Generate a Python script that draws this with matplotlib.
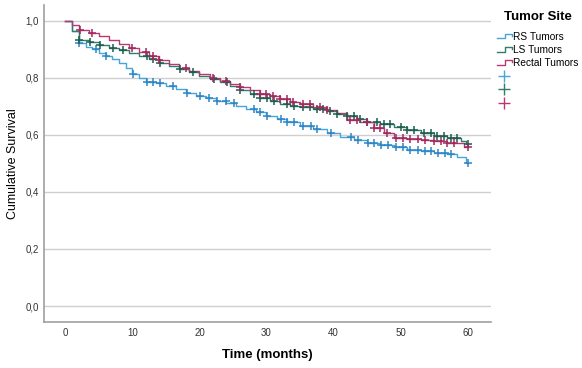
import matplotlib
matplotlib.use("Agg")
import matplotlib.pyplot as plt
import numpy as np
from matplotlib.lines import Line2D
from matplotlib.legend_handler import HandlerBase

plt.rcParams['font.family'] = ['Liberation Sans', 'DejaVu Sans']

# ---- data ----
groups = ["RS Tumors", "LS Tumors", "Rectal Tumors"]

rs_times = [0, 1.0, 2.0, 3.0, 4.0, 5.0, 6.0, 7.0, 8.0, 9.0, 10.0, 11.0, 12.0, 13.5, 15.0,
            16.5, 18.0, 19.5, 21.0, 22.5, 24.0, 25.5, 27.0, 28.5, 30.0, 31.5, 33.0, 35.0,
            37.0, 39.0, 41.0, 43.0, 45.0, 47.0, 49.0, 51.0, 53.0, 55.0, 57.0, 58.5, 59.8]
rs_surv = [1.0, 0.966, 0.922, 0.91, 0.90, 0.888, 0.876, 0.866, 0.852, 0.835, 0.815, 0.80,
           0.787, 0.781, 0.773, 0.762, 0.748, 0.737, 0.728, 0.720, 0.712, 0.703, 0.692,
           0.681, 0.668, 0.657, 0.645, 0.632, 0.620, 0.606, 0.593, 0.581, 0.572, 0.563,
           0.556, 0.548, 0.543, 0.538, 0.532, 0.522, 0.500]
rs_censor = [2.0, 4.6, 6.1, 10.1, 12.1, 13.1, 14.1, 16.1, 18.1, 20.1, 21.4, 22.6, 23.9,
             25.1, 28.1, 29.1, 30.1, 32.1, 33.1, 34.1, 35.4, 36.6, 37.6, 39.6, 42.6, 43.6,
             45.1, 46.1, 47.1, 48.1, 49.4, 50.4, 51.4, 52.6, 53.6, 54.6, 55.6, 56.6, 57.6,
             60.0]

ls_times = [0, 1.0, 2.0, 3.5, 5.0, 6.5, 8.0, 9.5, 11.0, 12.5, 14.0, 15.5, 17.0, 18.5, 20.0,
            21.5, 23.0, 24.5, 26.0, 27.5, 29.0, 30.5, 32.0, 33.5, 35.0, 37.0, 39.0, 40.5,
            42.0, 43.5, 45.0, 47.0, 49.0, 51.0, 53.0, 55.0, 57.0, 59.0, 59.8]
ls_surv = [1.0, 0.966, 0.933, 0.925, 0.915, 0.906, 0.898, 0.888, 0.878, 0.866, 0.852,
           0.842, 0.832, 0.822, 0.808, 0.796, 0.784, 0.770, 0.757, 0.744, 0.728, 0.718,
           0.710, 0.703, 0.698, 0.692, 0.684, 0.675, 0.665, 0.655, 0.647, 0.638, 0.628,
           0.617, 0.605, 0.596, 0.588, 0.580, 0.568]
ls_censor = [2.0, 3.6, 5.1, 7.1, 8.6, 12.1, 13.1, 14.1, 17.1, 19.1, 22.1, 24.1, 26.1,
             28.1, 29.1, 30.1, 31.1, 33.1, 34.1, 35.5, 36.5, 37.5, 38.5, 39.5, 40.5,
             42.0, 43.0, 44.0, 45.0, 46.5, 47.5, 48.5, 50.0, 51.0, 52.0, 53.5, 54.5,
             55.5, 56.5, 57.5, 58.5, 60.0]

re_times = [0, 1.0, 2.0, 3.5, 5.0, 6.5, 8.0, 9.5, 11.0, 12.5, 14.0, 15.5, 17.0, 18.5,
            20.0, 21.5, 23.0, 24.5, 26.0, 27.5, 29.0, 30.5, 32.0, 33.5, 35.0, 37.0, 39.0,
            40.5, 42.0, 44.0, 46.0, 47.5, 49.0, 51.0, 53.0, 55.0, 57.0, 59.5]
re_surv = [1.0, 0.986, 0.968, 0.957, 0.946, 0.934, 0.920, 0.905, 0.890, 0.876, 0.862,
           0.848, 0.836, 0.825, 0.812, 0.800, 0.790, 0.778, 0.768, 0.757, 0.745, 0.735,
           0.726, 0.717, 0.708, 0.697, 0.686, 0.677, 0.653, 0.645, 0.625, 0.607, 0.590,
           0.586, 0.582, 0.577, 0.572, 0.559]
re_censor = [2.1, 4.0, 10.0, 12.0, 13.0, 14.0, 18.0, 22.0, 24.0, 26.0, 29.0, 30.0, 31.0,
             32.0, 33.0, 34.0, 35.5, 36.5, 38.0, 39.0, 42.5, 43.5, 45.0, 46.0, 47.0, 48.0,
             49.4, 50.4, 51.4, 52.6, 53.6, 55.0, 56.0, 57.0, 58.0, 60.0]

x_ticks = [0, 10, 20, 30, 40, 50, 60]
y_ticks = [0.0, 0.2, 0.4, 0.6, 0.8, 1.0]

line_colors = ['#45a6da', '#2f7d6b', '#b83a72']
mark_colors = ['#2f86c6', '#1f5c4e', '#a02a5e']

# ---- figure ----
fig = plt.figure(figsize=(5.82, 3.68), dpi=100)
ax = fig.add_axes([0.0756, 0.125, 0.768, 0.861])

series = [(rs_times, rs_surv, rs_censor), (ls_times, ls_surv, ls_censor),
          (re_times, re_surv, re_censor)]
for (t, s, c), lc, mc in zip(series, line_colors, mark_colors):
    tt = list(t) + [60.0]
    ss = list(s) + [s[-1]]
    ax.step(tt, ss, where='post', color=lc, lw=1.0, zorder=3)
    idx = np.searchsorted(np.array(t), np.array(c), side='right') - 1
    cy = np.array(s)[idx]
    ax.plot(c, cy, linestyle='none', marker='+', markersize=5.5, mew=1.1,
            color=mc, zorder=4)

ax.set_xlim(-3.2, 63.5)
ax.set_ylim(-0.056, 1.055)
ax.set_xticks(x_ticks)
ax.set_xticklabels([str(v) for v in x_ticks])
ax.set_yticks(y_ticks)
ax.set_yticklabels([f"{v:.1f}".replace('.', ',') for v in y_ticks])
ax.tick_params(axis='x', length=0, labelsize=7, labelcolor='#333333', pad=4.5)
ax.tick_params(axis='y', length=0, labelsize=7, labelcolor='#333333', pad=3.5)
ax.yaxis.grid(True, color='#cfcfcf', lw=1.0)
ax.set_axisbelow(True)
for sp in ['top', 'right']:
    ax.spines[sp].set_visible(False)
for sp in ['left', 'bottom']:
    ax.spines[sp].set_color('#a0a0a0')
    ax.spines[sp].set_linewidth(1.2)

ax.set_xlabel('Time (months)', fontsize=9.5, fontweight='bold', labelpad=8)
ax.set_ylabel('Cumulative Survival', fontsize=9, labelpad=5)


class StepHandler(HandlerBase):
    def create_artists(self, legend, orig_handle, xdescent, ydescent, width, height,
                       fontsize, trans):
        xs = np.array([0, 0.55, 0.55, 1.0, 1.0]) * width - xdescent
        ys = np.array([0.15, 0.15, 0.85, 0.85, 0.55]) * height - ydescent
        ln = Line2D(xs, ys, color=orig_handle.get_color(), lw=1.0, transform=trans)
        return [ln]


handles = []
labels = []
for g, lc in zip(groups, line_colors):
    handles.append(Line2D([], [], color=lc))
    labels.append(g)
for mc in line_colors:
    handles.append(Line2D([], [], linestyle='none', marker='+', markersize=8,
                          mew=1.0, color=mc))
    labels.append('')
hmap = {h: StepHandler() for h in handles[:3]}
leg = fig.legend(handles, labels, handler_map=hmap, loc='upper left',
                 bbox_to_anchor=(0.851, 0.975), frameon=False, fontsize=7.3,
                 title='Tumor Site', title_fontproperties={'weight': 'bold', 'size': 9.5},
                 handlelength=1.4, handletextpad=0.15, labelspacing=0.33,
                 borderaxespad=0, borderpad=0.2)
leg._legend_box.align = 'center'
leg._legend_box.sep = 6

fig.savefig('out.png', dpi=100)
